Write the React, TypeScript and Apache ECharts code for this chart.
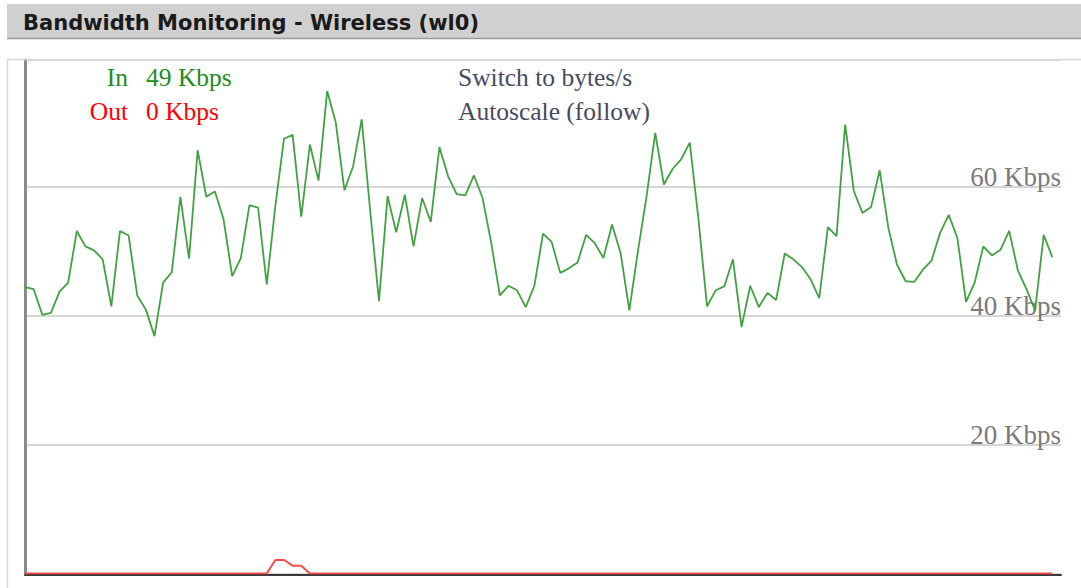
import React, { useEffect, useRef } from "react";
import * as echarts from "echarts";

const titleText = "Bandwidth Monitoring - Wireless (wl0)";
const inLabel = "In";
const inValueText = "49 Kbps";
const outLabel = "Out";
const outValueText = "0 Kbps";
const linkTexts = ["Switch to bytes/s", "Autoscale (follow)"];
const unit = "Kbps";
const yTickStep = 20;
const yMax = 79.6;
const xMax = 120;

const inData = [
  44.4, 44.1, 40.1, 40.4, 43.7, 45.1, 53.1, 50.7, 50.1, 48.7,
  41.4, 53.1, 52.4, 43.1, 40.9, 36.8, 45.1, 46.7, 58.4, 48.8,
  65.6, 58.4, 59.2, 54.9, 46.1, 48.9, 57.1, 56.7, 44.8, 57.0,
  67.4, 68.0, 55.3, 66.5, 60.9, 74.8, 69.9, 59.4, 63.1, 70.4,
  56.0, 42.2, 58.5, 52.9, 58.7, 50.7, 58.2, 54.5, 66.1, 61.6,
  58.8, 58.6, 61.7, 58.2, 51.3, 43.1, 44.6, 43.9, 41.3, 44.6,
  52.7, 51.4, 46.6, 47.3, 48.2, 52.5, 51.2, 48.9, 54.1, 49.6,
  40.8, 50.0, 58.5, 68.3, 60.3, 62.7, 64.2, 66.8, 55.0, 41.4,
  43.9, 44.5, 48.7, 38.2, 44.6, 41.3, 43.5, 42.4, 49.6, 48.7,
  47.5, 45.6, 42.7, 53.7, 52.3, 69.6, 59.3, 55.9, 56.8, 62.5,
  53.6, 47.9, 45.3, 45.2, 47.1, 48.5, 52.8, 55.6, 52.0, 42.1,
  45.1, 50.7, 49.3, 50.2, 53.1, 47.0, 44.1, 40.8, 52.5, 49.0,
];

const outData = [
  0, 0, 0, 0, 0, 0, 0, 0, 0, 0,
  0, 0, 0, 0, 0, 0, 0, 0, 0, 0,
  0, 0, 0, 0, 0, 0, 0, 0, 0, 2.1,
  2.1, 1.2, 1.2, 0, 0, 0, 0, 0, 0, 0,
  0, 0, 0, 0, 0, 0, 0, 0, 0, 0,
  0, 0, 0, 0, 0, 0, 0, 0, 0, 0,
  0, 0, 0, 0, 0, 0, 0, 0, 0, 0,
  0, 0, 0, 0, 0, 0, 0, 0, 0, 0,
  0, 0, 0, 0, 0, 0, 0, 0, 0, 0,
  0, 0, 0, 0, 0, 0, 0, 0, 0, 0,
  0, 0, 0, 0, 0, 0, 0, 0, 0, 0,
  0, 0, 0, 0, 0, 0, 0, 0, 0, 0,
];

const SERIF = "Liberation Serif";
const LEGEND_FONT = `25.5px '${SERIF}'`;

export default function App() {
  const ref = useRef<HTMLDivElement>(null);

  useEffect(() => {
    if (!ref.current) return;
    const chart = echarts.init(ref.current, null, { renderer: "svg" });
    chart.setOption({
      animation: false,
      backgroundColor: "#ffffff",
      grid: { left: 25, right: 20, top: 60, bottom: 14.5 },
      xAxis: {
        type: "value",
        min: 0,
        max: xMax,
        offset: 1,
        axisLine: { show: true, onZero: false, lineStyle: { color: "#3a3a3a", width: 2 } },
        axisTick: { show: false },
        axisLabel: { show: false },
        splitLine: { show: false },
      },
      yAxis: [
        {
          type: "value",
          min: 0,
          max: yMax,
          position: "left",
          axisLine: { show: true, lineStyle: { color: "#8a8a8a", width: 3 } },
          axisTick: { show: false },
          axisLabel: { show: false },
          splitLine: { show: false },
        },
        {
          type: "value",
          min: 0,
          max: yMax,
          interval: yTickStep,
          position: "right",
          axisLine: { show: false },
          axisTick: { show: false },
          axisLabel: {
            inside: true,
            margin: 0,
            showMinLabel: false,
            showMaxLabel: false,
            formatter: (v: number) => (v === 0 || v > 60 ? "" : `${v} ${unit}`),
            verticalAlign: "bottom",
            lineHeight: 19,
            color: "#7a7a7a",
            fontFamily: SERIF,
            fontSize: 27,
          },
          splitLine: { lineStyle: { color: "#c8c8c8", width: 1.5 } },
        },
      ],
      series: [
        {
          type: "line",
          yAxisIndex: 0,
          data: inData.map((v, i) => [i, v]),
          showSymbol: false,
          lineStyle: { color: "#42a142", width: 1.8 },
          z: 3,
        },
        {
          type: "line",
          yAxisIndex: 0,
          data: outData.map((v, i) => [i, v]),
          showSymbol: false,
          lineStyle: { color: "#ff4a4a", width: 2 },
          z: 4,
        },
      ],
      graphic: [
        {
          type: "rect",
          shape: { x: 7, y: 4, width: 1080, height: 34 },
          style: { fill: "#d0d0d0" },
          z: 1,
        },
        {
          type: "line",
          shape: { x1: 7, y1: 38.5, x2: 1081, y2: 38.5 },
          style: { stroke: "#9a9a9a", lineWidth: 1.5 },
          z: 2,
        },
        {
          type: "text",
          x: 23,
          y: 23,
          style: {
            text: titleText,
            fill: "#1a1a1a",
            font: "bold 21px 'DejaVu Sans'",
            textVerticalAlign: "middle",
          },
          z: 3,
        },
        {
          type: "line",
          shape: { x1: 7, y1: 59.5, x2: 1081, y2: 59.5 },
          style: { stroke: "#d8d8d8", lineWidth: 1.5 },
          z: 1,
        },
        {
          type: "line",
          shape: { x1: 7.5, y1: 59, x2: 7.5, y2: 588 },
          style: { stroke: "#d8d8d8", lineWidth: 1.5 },
          z: 1,
        },
        {
          type: "text",
          x: 128,
          y: 77,
          style: { text: inLabel, fill: "#228b22", font: LEGEND_FONT, textAlign: "right", textVerticalAlign: "middle" },
          z: 5,
        },
        {
          type: "text",
          x: 146,
          y: 77,
          style: { text: inValueText, fill: "#228b22", font: LEGEND_FONT, textAlign: "left", textVerticalAlign: "middle" },
          z: 5,
        },
        {
          type: "text",
          x: 128,
          y: 111,
          style: { text: outLabel, fill: "#ff0000", font: LEGEND_FONT, textAlign: "right", textVerticalAlign: "middle" },
          z: 5,
        },
        {
          type: "text",
          x: 146,
          y: 111,
          style: { text: outValueText, fill: "#ff0000", font: LEGEND_FONT, textAlign: "left", textVerticalAlign: "middle" },
          z: 5,
        },
        {
          type: "text",
          x: 458,
          y: 77,
          style: { text: linkTexts[0], fill: "#474a5e", font: LEGEND_FONT, textAlign: "left", textVerticalAlign: "middle" },
          z: 5,
        },
        {
          type: "text",
          x: 458,
          y: 111,
          style: { text: linkTexts[1], fill: "#474a5e", font: LEGEND_FONT, textAlign: "left", textVerticalAlign: "middle" },
          z: 5,
        },
      ],
    });
    return () => chart.dispose();
  }, []);

  return (
    <div
      ref={ref}
      style={{ position: "absolute", left: 0, top: 0, width: 1081, height: 588 }}
    />
  );
}
